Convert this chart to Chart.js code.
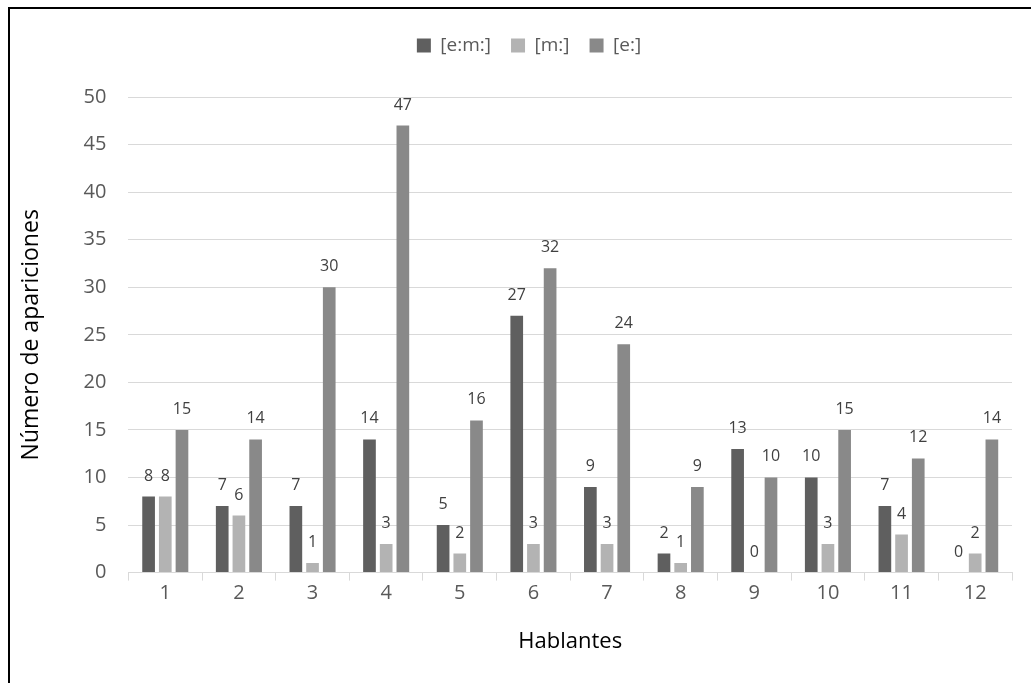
<!DOCTYPE html>
<html>
<head>
<meta charset="utf-8">
<script src="https://cdn.jsdelivr.net/npm/chart.js@4.4.1/dist/chart.umd.min.js"></script>
<style>
  html, body { margin: 0; padding: 0; background: #fff; }
  #wrap { position: relative; width: 1031px; height: 683px; overflow: hidden; }
  #frame { position: absolute; left: 8px; top: 7px; width: 1030px; height: 700px;
           border-top: 2px solid #000; border-left: 2px solid #000; box-sizing: border-box; }
  canvas { position: absolute; left: 0; top: 0; }
</style>
</head>
<body>
<div id="wrap">
  <div id="frame"></div>
  <canvas id="c" width="1031" height="683"></canvas>
</div>
<script>
const categories = ["1","2","3","4","5","6","7","8","9","10","11","12"];
const seriesNames = ["[e:m:]", "[m:]", "[e:]"];
const emValues = [8, 7, 7, 14, 5, 27, 9, 2, 13, 10, 7, 0];
const mValues  = [8, 6, 1, 3, 2, 3, 3, 1, 0, 3, 4, 2];
const eValues  = [15, 14, 30, 47, 16, 32, 24, 9, 10, 15, 12, 14];
const yTicks = [0, 5, 10, 15, 20, 25, 30, 35, 40, 45, 50];

const FONT = "'Open Sans', sans-serif";

const valueLabels = {
  id: 'valueLabels',
  afterDatasetsDraw(chart) {
    const ctx = chart.ctx;
    ctx.save();
    ctx.font = "16px " + FONT;
    ctx.fillStyle = "#404040";
    ctx.textAlign = "center";
    ctx.textBaseline = "alphabetic";
    chart.data.datasets.forEach((ds, i) => {
      const meta = chart.getDatasetMeta(i);
      meta.data.forEach((bar, j) => {
        ctx.fillText(String(ds.data[j]), bar.x, bar.y - 16);
      });
    });
    ctx.restore();
  }
};

const legendSpace = {
  id: 'legendSpace',
  beforeInit(chart) {
    const origFit = chart.legend.fit;
    chart.legend.fit = function () {
      origFit.bind(chart.legend)();
      this.height += 32;
    };
  },
  afterLayout(chart) {
    chart.legend.left += 14;
    chart.legend.right += 14;
  }
};

new Chart(document.getElementById('c'), {
  type: 'bar',
  data: {
    labels: categories,
    datasets: [
      { label: seriesNames[0], data: emValues, backgroundColor: '#5f5f5f' },
      { label: seriesNames[1], data: mValues,  backgroundColor: '#b3b3b3' },
      { label: seriesNames[2], data: eValues,  backgroundColor: '#898989' }
    ]
  },
  options: {
    responsive: false,
    animation: false,
    layout: { padding: { top: 16, left: 18, right: 19, bottom: 28 } },
    datasets: { bar: { categoryPercentage: 0.68, barPercentage: 0.76 } },
    plugins: {
      legend: {
        position: 'top',
        labels: {
          boxWidth: 14, boxHeight: 14,
          color: '#595959',
          font: { family: FONT, size: 19 },
          padding: 20
        }
      },
      tooltip: { enabled: false }
    },
    scales: {
      x: {
        grid: { display: true, drawOnChartArea: false, drawTicks: true, tickLength: 8, color: '#d9d9d9', offset: true },
        border: { display: true, color: '#d9d9d9', width: 1 },
        ticks: { color: '#595959', font: { family: FONT, size: 20 }, padding: 1 },
        title: { display: true, text: 'Hablantes', color: '#000', font: { family: FONT, size: 22 }, padding: { top: 22, bottom: 0 } }
      },
      y: {
        min: 0, max: 50,
        afterBuildTicks(scale) { scale.ticks = yTicks.map(v => ({ value: v })); },
        grid: { color: '#d9d9d9', drawTicks: false },
        border: { display: false },
        ticks: { color: '#595959', font: { family: FONT, size: 20 }, padding: 22 },
        title: { display: true, text: 'Número de apariciones', color: '#000', font: { family: FONT, size: 23 }, padding: { top: 0, bottom: 16 } }
      }
    }
  },
  plugins: [valueLabels, legendSpace]
});
</script>
</body>
</html>
